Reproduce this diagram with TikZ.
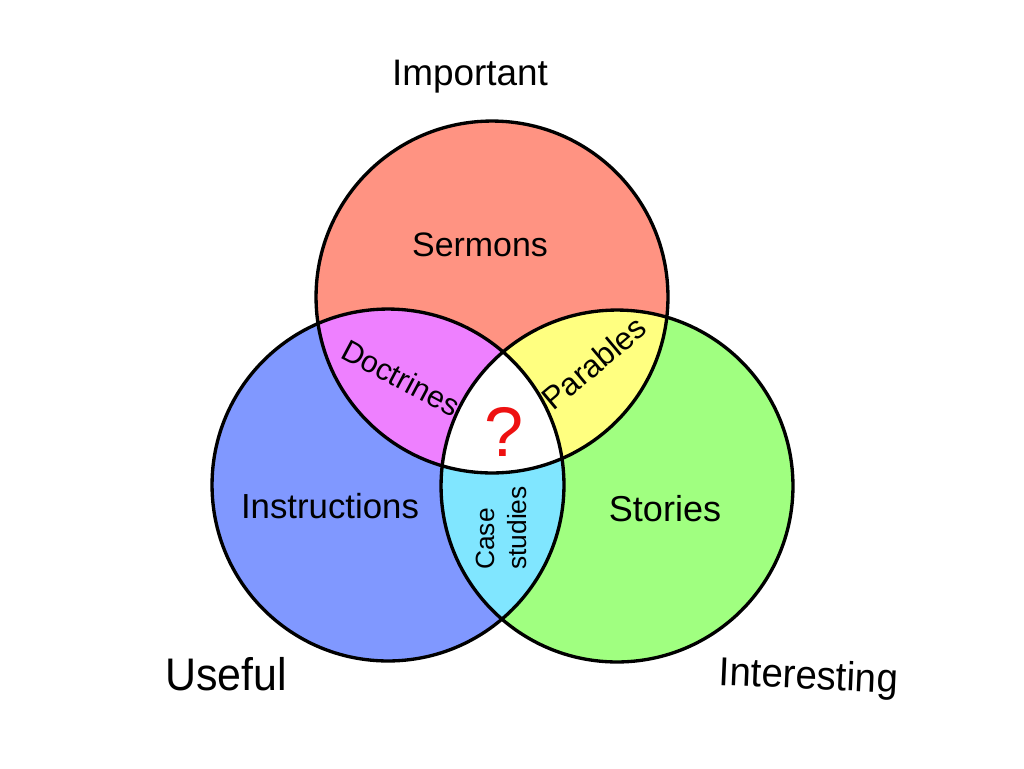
\documentclass[tikz,border=0pt]{standalone}
\usepackage{fontspec}
\setmainfont{Liberation Sans}
\definecolor{cred}{HTML}{FF9382}
\definecolor{cblue}{HTML}{8098FF}
\definecolor{cgreen}{HTML}{A0FF80}
\definecolor{cmag}{HTML}{EE80FF}
\definecolor{cyel}{HTML}{FFFF80}
\definecolor{ccyan}{HTML}{80E6FF}
\definecolor{qred}{HTML}{EE1111}
\newcommand{\fs}[1]{\fontsize{#1}{1.22\dimexpr #1pt\relax}\selectfont}
\begin{document}
\begin{tikzpicture}[x=0.02cm,y=-0.02cm,
  ring/.style={draw=black,line width=1.9pt},
  lbl/.style={inner sep=0pt,anchor=base},
  rlbl/.style={inner sep=0pt,anchor=center}]
\useasboundingbox[fill=white] (0,0) rectangle (1024,768);
\def\rad{3.52cm}
\coordinate (T) at (492,297);
\coordinate (L) at (388,485);
\coordinate (R) at (617,486);
\fill[cred] (T) circle[radius=\rad];
\fill[cblue] (L) circle[radius=\rad];
\fill[cgreen] (R) circle[radius=\rad];
\begin{scope}\clip (T) circle[radius=\rad]; \fill[cmag] (L) circle[radius=\rad];\end{scope}
\begin{scope}\clip (T) circle[radius=\rad]; \fill[cyel] (R) circle[radius=\rad];\end{scope}
\begin{scope}\clip (L) circle[radius=\rad]; \fill[ccyan] (R) circle[radius=\rad];\end{scope}
\begin{scope}\clip (T) circle[radius=\rad]; \clip (L) circle[radius=\rad]; \fill[white] (R) circle[radius=\rad];\end{scope}
\draw[ring] (T) circle[radius=\rad];
\draw[ring] (L) circle[radius=\rad];
\draw[ring] (R) circle[radius=\rad];
% labels
\node[lbl,font=\fs{21}] (imp) at (470,85) {Important};
\node[lbl,font=\fs{26},xscale=0.94] (use) at (226,690) {Useful};
\node[lbl,font=\fs{23},rotate=-2.5,xscale=0.95] (int) at (808,689) {Interesting};
\node[lbl,font=\fs{19.3}] (ser) at (480,256) {Sermons};
\node[lbl,font=\fs{19.8}] (ins) at (330,518) {Instructions};
\node[lbl,font=\fs{20.5}] (sto) at (665,521) {Stories};
\node[rlbl,font=\fs{17.3},rotate=-28] (doc) at (401,378) {Doctrines};
\node[rlbl,font=\fs{18},rotate=40] (par) at (594,363) {Parables};
\node[rlbl,font=\fs{15},rotate=90,align=left] (cas) at (501,528) {Case\\studies};
\node[rlbl,font=\fs{40},text=qred] (q) at (504,432) {?};
\end{tikzpicture}
\end{document}
